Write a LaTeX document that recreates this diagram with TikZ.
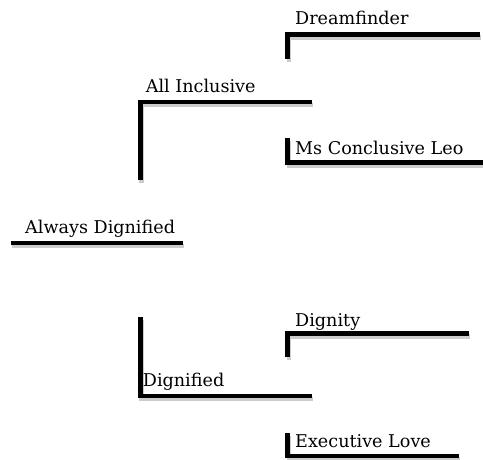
\documentclass[tikz,border=0pt]{standalone}
\usepackage{fontspec}
\newfontfamily\lbfont{DejaVu Serif}
\begin{document}
\begin{tikzpicture}[x=1pt,y=1pt,
  br/.style={line width=4.5pt, line join=miter, line cap=butt, black},
  sh/.style={line width=4.5pt, line join=miter, line cap=butt, gray!40, transform canvas={shift={(1.2pt,-3pt)}}},
  lbl/.style={anchor=base west, inner sep=0pt, font=\lbfont\fontsize{17.6}{20}\selectfont}]
\useasboundingbox (0,0) rectangle (483,460);
% coordinates
\coordinate (r1) at (11,217);   \coordinate (r2) at (183,217);
\coordinate (a0) at (140.5,280); \coordinate (a1) at (140.5,358); \coordinate (a2) at (312,358);
\coordinate (g0) at (140.5,143); \coordinate (g1) at (140.5,64);  \coordinate (g2) at (312,64);
\coordinate (d0) at (287.7,401); \coordinate (d1) at (287.7,425.5); \coordinate (d2) at (480,425.5);
\coordinate (m0) at (287.7,321.5); \coordinate (m1) at (287.7,297.3); \coordinate (m2) at (485,297.3);
\coordinate (y0) at (287.7,103); \coordinate (y1) at (287.7,126.5); \coordinate (y2) at (469,126.5);
\coordinate (e0) at (287.7,27.3); \coordinate (e1) at (287.7,4); \coordinate (e2) at (459,4);
% shadows
\draw[sh] (r1) -- (r2);
\draw[sh] (a0) -- (a1) -- (a2);
\draw[sh] (g0) -- (g1) -- (g2);
\draw[sh] (d0) -- (d1) -- (d2);
\draw[sh] (m0) -- (m1) -- (m2);
\draw[sh] (y0) -- (y1) -- (y2);
\draw[sh] (e0) -- (e1) -- (e2);
% lines
\draw[br] (r1) -- (r2);
\draw[br] (a0) -- (a1) -- (a2);
\draw[br] (g0) -- (g1) -- (g2);
\draw[br] (d0) -- (d1) -- (d2);
\draw[br] (m0) -- (m1) -- (m2);
\draw[br] (y0) -- (y1) -- (y2);
\draw[br] (e0) -- (e1) -- (e2);
% labels
\node[lbl] (root) at (25,226) {Always Dignified};
\node[lbl] (ai) at (145.7,367.3) {All Inclusive};
\node[lbl] (df) at (295,435) {Dreamfinder};
\node[lbl] (mcl) at (295,305) {Ms Conclusive Leo};
\node[lbl] (dg) at (142.7,73) {Dignified};
\node[lbl] (dy) at (295,133.3) {Dignity};
\node[lbl] (el) at (295,12) {Executive Love};
\end{tikzpicture}
\end{document}
